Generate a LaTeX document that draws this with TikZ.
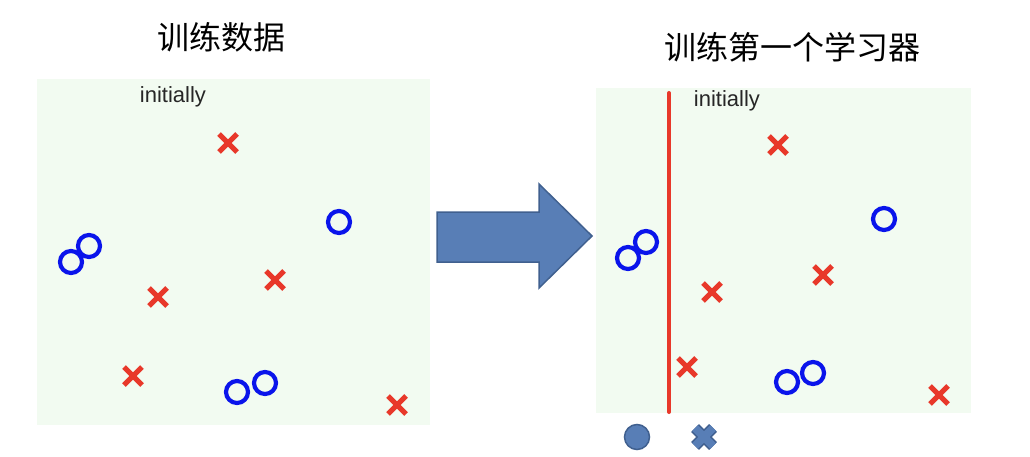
\documentclass[tikz,border=0pt]{standalone}
\usepackage{fontspec}
\setmainfont{Liberation Sans}
\newfontfamily\cjk{Noto Sans CJK SC}
\usetikzlibrary{positioning}
\definecolor{panelbg}{RGB}{242,251,241}
\definecolor{crossred}{RGB}{232,56,42}
\definecolor{ringblue}{RGB}{10,20,235}
\definecolor{arrowfill}{RGB}{88,126,182}
\definecolor{arrowedge}{RGB}{64,96,143}

\begin{document}
\begin{tikzpicture}[
  x=1pt,y=-1pt,
  title/.style={font=\cjk\fontsize{32}{36}\selectfont,inner sep=0pt},
  note/.style={font=\fontsize{22}{26}\selectfont,text=black!85,inner sep=0pt},
  panel/.style={fill=panelbg},
  ring/.style={draw=ringblue,line width=4.2pt},
  cross/.pic={\draw[crossred,line width=5pt] (-9,-9) -- (9,9) (-9,9) -- (9,-9);},
  bigarrow/.style={fill=arrowfill,draw=arrowedge,line width=1.5pt,line join=miter},
  splitline/.style={draw=crossred,line width=4pt,line cap=round}
]
\useasboundingbox (0,0) rectangle (1030,457);

% training data
\node[title] (datatitle) at (221,37) {训练数据};
\fill[panel] (37,79) rectangle (430,425);
\node[note] (datanote) at (173,97) {initially};
\foreach \px/\py in {228/143,158/297,275/280,133/376,397/405}
  \pic at (\px,\py) {cross};
\foreach \px/\py in {71/262,89/246,339/222,237/392,265/383}
  \draw[ring] (\px,\py) circle (11);

% arrow
\draw[bigarrow] (437,212) -- (539,212) -- (539,184) -- (592,236)
  -- (539,288) -- (539,262) -- (437,262) -- cycle;

% first learner
\node[title] (learntitle) at (792,47) {训练第一个学习器};
\fill[panel] (596,88) rectangle (971,413);
\node[note] (learnnote) at (727,101) {initially};
\draw[splitline] (669,93) -- (669,412);
\foreach \px/\py in {778/145,712/292,823/275,687/367,939/395}
  \pic at (\px,\py) {cross};
\foreach \px/\py in {628/258,646/242,884/219,787/382,813/373}
  \draw[ring] (\px,\py) circle (11);

% legend below
\draw[fill=arrowfill,draw=arrowedge,line width=1.5pt] (637,437) circle (12.5);
\draw[arrowedge,line width=11pt] (695,428) -- (713,446) (695,446) -- (713,428);
\draw[arrowfill,line width=8pt] (695,428) -- (713,446) (695,446) -- (713,428);
\end{tikzpicture}
\end{document}
